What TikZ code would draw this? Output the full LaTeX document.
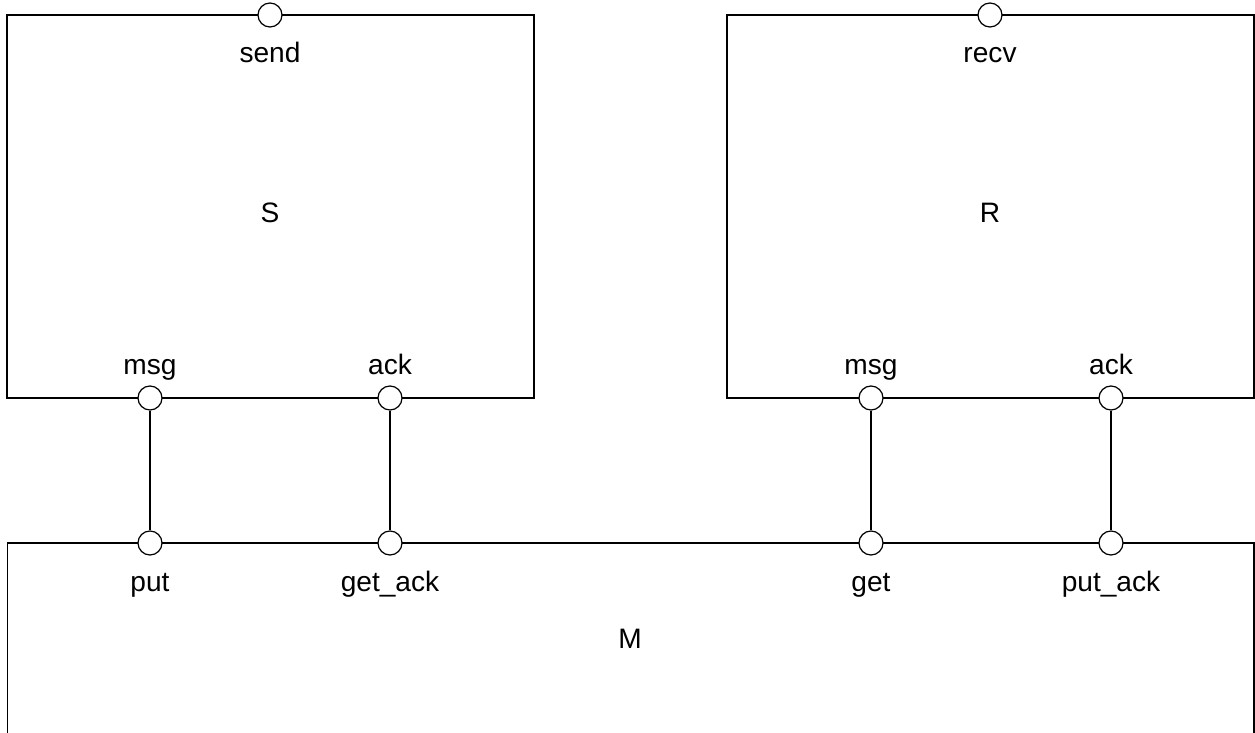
\documentclass[tikz,border=0pt]{standalone}
\usepackage{fontspec}
\setmainfont{Liberation Sans}
\usetikzlibrary{positioning}

\begin{document}
\begin{tikzpicture}[x=0.02cm, y=-0.02cm, line width=0.7pt,
    comp/.style={rectangle, draw, inner sep=0pt},
    port/.style={circle, draw, fill=white, inner sep=0pt, minimum size=0.48cm},
    lbl/.style={font=\fontsize{16}{19}\selectfont, anchor=base, inner sep=0pt}]
  \useasboundingbox (0,0) rectangle (1255,733);
  \clip (0,0) rectangle (1255,733);
  % components
  \node[comp, minimum width=10.54cm, minimum height=7.66cm] (S) at (270.5,206.5) {};
  \node[comp, minimum width=10.54cm, minimum height=7.66cm] (R) at (990.5,206.5) {};
  \node[comp, minimum width=24.94cm, minimum height=3.88cm] (M) at (630.5,640) {};
  \node[lbl] (Sl) at (270,223) {S};
  \node[lbl] (Rl) at (990,223) {R};
  \node[lbl] (Ml) at (630,648) {M};
  % ports
  \node[port] (send) at (270,15) {};
  \node[port] (recv) at (990,15) {};
  \node[port] (smsg) at (150,398) {};
  \node[port] (sack) at (390,398) {};
  \node[port] (rmsg) at (871,398) {};
  \node[port] (rack) at (1111,398) {};
  \node[port] (put) at (150,543) {};
  \node[port] (getack) at (390,543) {};
  \node[port] (get) at (871,543) {};
  \node[port] (putack) at (1111,543) {};
  \node[lbl] at (270,63) {send};
  \node[lbl] at (990,63) {recv};
  \node[lbl] at (150,375) {msg};
  \node[lbl] at (390,375) {ack};
  \node[lbl] at (871,375) {msg};
  \node[lbl] at (1111,375) {ack};
  \node[lbl] at (150,591) {put};
  \node[lbl] at (390,591) {get\_ack};
  \node[lbl] at (871,591) {get};
  \node[lbl] at (1111,591) {put\_ack};
  % bindings
  \draw (smsg) -- (put);
  \draw (sack) -- (getack);
  \draw (rmsg) -- (get);
  \draw (rack) -- (putack);
\end{tikzpicture}
\end{document}
